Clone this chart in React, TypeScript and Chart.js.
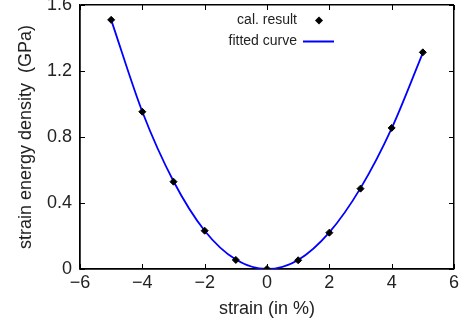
import React, { useEffect, useRef } from "react";
import { Chart, registerables } from "chart.js";

Chart.register(...registerables);

const strainValues = [-5, -4, -3, -2, -1, 0, 1, 2, 3, 4, 5];
const calResult = [1.51, 0.953, 0.529, 0.232, 0.055, 0.0, 0.053, 0.22, 0.487, 0.855, 1.313];
const fittedCurve = [1.51, 0.953, 0.532, 0.232, 0.057, 0.0, 0.055, 0.222, 0.49, 0.852, 1.31];
const xTicks = [-6, -4, -2, 0, 2, 4, 6];
const yTicks = [0, 0.4, 0.8, 1.2, 1.6];
const legendLabels = ["cal. result", "fitted curve"];

const FONT = "'Liberation Sans', Arial, Helvetica, sans-serif";

const edgeColor = (vals: number[]) => (c: any) => {
  const v = c && c.tick ? c.tick.value : NaN;
  return v === vals[0] || v === vals[vals.length - 1] ? "#000000" : "rgba(0,0,0,0)";
};

const framePlugin = {
  id: "frameAndLegend",
  afterDraw(chart: any) {
    const ctx = chart.ctx;
    const xs = chart.scales.x;
    const ys = chart.scales.y;
    const left = Math.round(xs.getPixelForValue(xTicks[0]));
    const right = Math.round(xs.getPixelForValue(xTicks[xTicks.length - 1]));
    const top = Math.round(ys.getPixelForValue(yTicks[yTicks.length - 1]));
    const bottom = Math.round(ys.getPixelForValue(yTicks[0]));
    ctx.save();
    ctx.fillStyle = "#000000";
    const tl = 5;
    xTicks.forEach((v) => {
      const px = Math.round(xs.getPixelForValue(v));
      ctx.fillRect(px, bottom - tl, 1, tl);
      ctx.fillRect(px, top, 1, tl);
    });
    yTicks.forEach((v) => {
      const py = Math.round(ys.getPixelForValue(v));
      ctx.fillRect(left, py, tl, 1);
      ctx.fillRect(right - tl, py, tl, 1);
    });

    ctx.font = `14px ${FONT}`;
    ctx.fillStyle = "#222";
    ctx.textAlign = "right";
    ctx.textBaseline = "middle";
    const tx = 297;
    ctx.fillText(legendLabels[0], tx, 20.5);
    ctx.fillText(legendLabels[1], tx, 41.5);
    const dx = 319, dy = 20.5, r = 4;
    ctx.fillStyle = "#000";
    ctx.beginPath();
    ctx.moveTo(dx, dy - r);
    ctx.lineTo(dx + r, dy);
    ctx.lineTo(dx, dy + r);
    ctx.lineTo(dx - r, dy);
    ctx.closePath();
    ctx.fill();
    ctx.fillStyle = "#0000ff";
    ctx.fillRect(303, 40.5, 31, 2);
    ctx.restore();
  },
};

export default function App() {
  const ref = useRef<HTMLCanvasElement | null>(null);
  useEffect(() => {
    document.body.style.margin = "0";
    const canvas = ref.current;
    if (!canvas) return;
    const chart = new Chart(canvas, {
      type: "scatter",
      data: {
        datasets: [
          {
            label: legendLabels[0],
            data: strainValues.map((x, i) => ({ x, y: calResult[i] })),
            showLine: false,
            pointStyle: "rectRot",
            pointRadius: 3.5,
            pointBorderWidth: 1,
            backgroundColor: "#000",
            borderColor: "#000",
          },
          {
            label: legendLabels[1],
            data: strainValues.map((x, i) => ({ x, y: fittedCurve[i] })),
            showLine: true,
            pointRadius: 0,
            borderColor: "#0000ff",
            borderWidth: 1.8,
            cubicInterpolationMode: "monotone",
          },
        ],
      },
      options: {
        animation: false,
        responsive: false,
        devicePixelRatio: 1,
        layout: { padding: { top: 5, right: 16, left: 0, bottom: 0 } },
        plugins: { legend: { display: false }, tooltip: { enabled: false } },
        scales: {
          x: {
            type: "linear",
            min: -6,
            max: 6,
            afterBuildTicks: (s: any) => {
              s.ticks = xTicks.map((v) => ({ value: v }));
            },
            afterFit: (s: any) => {
              s.height = 58;
              s.paddingLeft = 0;
              s.paddingRight = 0;
            },
            grid: {
              display: true,
              drawOnChartArea: true,
              drawTicks: false,
              lineWidth: 1.5,
              color: edgeColor(xTicks),
            },
            border: { display: true, color: "#000000", width: 1.5 },
            ticks: {
              padding: 3,
              color: "#222",
              font: { family: FONT, size: 18 },
              callback: (v: any) => (Number(v) < 0 ? "\u2212" + Math.abs(Number(v)) : String(v)),
            },
            title: {
              display: true,
              text: "strain (in %)",
              color: "#222",
              font: { family: FONT, size: 18 },
              padding: { top: 0, bottom: 7 },
            },
          },
          y: {
            type: "linear",
            min: 0,
            max: 1.6,
            afterBuildTicks: (s: any) => {
              s.ticks = yTicks.map((v) => ({ value: v }));
            },
            afterFit: (s: any) => {
              s.width = 80;
              s.paddingTop = 0;
              s.paddingBottom = 0;
            },
            grid: {
              display: true,
              drawOnChartArea: true,
              drawTicks: false,
              lineWidth: 1.5,
              color: edgeColor(yTicks),
            },
            border: { display: true, color: "#000000", width: 1.5 },
            ticks: {
              padding: 8,
              color: "#222",
              font: { family: FONT, size: 18 },
              callback: (v: any) => String(Number(v)),
            },
            title: {
              display: true,
              text: "strain energy density  (GPa)",
              color: "#222",
              font: { family: FONT, size: 18 },
              padding: { top: 15, bottom: 0 },
            },
          },
        },
      },
      plugins: [framePlugin],
    });
    return () => chart.destroy();
  }, []);
  return (
    <div style={{ width: 470, height: 327 }}>
      <canvas ref={ref} width={470} height={327} style={{ display: "block" }} />
    </div>
  );
}
